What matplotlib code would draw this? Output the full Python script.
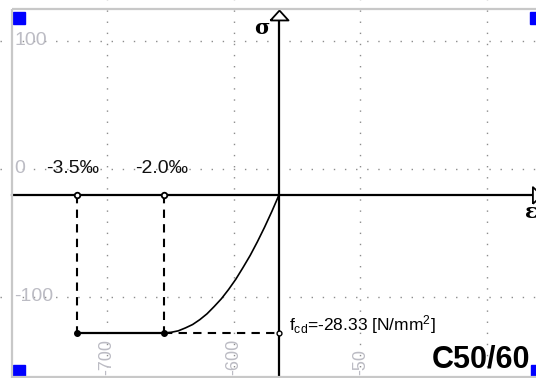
import matplotlib
matplotlib.use('Agg')
import matplotlib.pyplot as plt
from matplotlib import transforms
from matplotlib.patches import Rectangle
from matplotlib.lines import Line2D

plt.rcParams['font.family'] = ['Liberation Sans', 'DejaVu Sans']
plt.rcParams['mathtext.fontset'] = 'custom'
plt.rcParams['mathtext.rm'] = 'Liberation Sans'
plt.rcParams['mathtext.it'] = 'Liberation Sans:italic'

# background grid scale (the labels the tool draws)
grid_x = [-700, -600, -500, -400]
grid_x_labels = ['-700', '-600', '-50', '']
grid_y = [100, 0, -100]
grid_y_labels = ['100', '0', '-100']

# parabola-rectangle diagram, strain in permille, stress in N/mm2
eps_curve = [0, -0.125, -0.25, -0.375, -0.5, -0.625, -0.75, -0.875, -1.0,
             -1.125, -1.25, -1.375, -1.5, -1.625, -1.75, -1.875, -2.0]
sig_curve = [0, -3.4, -6.6, -9.6, -12.4, -14.9, -17.3, -19.4, -21.3,
             -22.9, -24.4, -25.6, -26.6, -27.3, -27.9, -28.2, -28.33]
eps_c2 = -2.0
eps_cu2 = -3.5
fcd = -28.33
concrete = 'C50/60'

W, H = 536, 378
fig = plt.figure(figsize=(W / 100, H / 100), dpi=100, facecolor='white')

# grid axes
bg = fig.add_axes([0, 0, 1, 1])
bg.set_xlim(-784.45, -361.4)
bg.set_ylim(-163.3, 132.0)
bg.axis('off')
for v in grid_x:
    bg.axvline(v, color='#8c8c8c', lw=1.0, ls=(0, (1, 7)))
for v in grid_y:
    bg.axhline(v, color='#8c8c8c', lw=1.0, ls=(0, (1, 7)))
ty = transforms.blended_transform_factory(fig.transFigure, bg.transData)
for v, lab in zip(grid_y, grid_y_labels):
    bg.text(14 / W, v, lab, transform=ty, ha='left', va='center',
            fontsize=14, color='#bcbcc4')
tx = transforms.blended_transform_factory(bg.transData, fig.transFigure)
for v, lab in zip(grid_x, grid_x_labels):
    bg.text(v, 3 / H, lab, transform=tx, ha='center', va='bottom',
            rotation=90, fontsize=13, color='#bcbcc4')

# main diagram axes
ax = fig.add_axes([0, 0, 1, 1])
ax.patch.set_alpha(0)
ax.set_xlim(-4.844, 4.462)
ax.set_ylim(-37.58, 40.04)
ax.axis('off')

ax.axhline(0, xmin=12 / W, xmax=1, color='black', lw=1.6)
ax.axvline(0, ymin=0, ymax=(H - 19) / H, color='black', lw=1.6)
up_tri = [(-1, -0.55), (0, 0.55), (1, -0.55), (-1, -0.55)]
ax.plot([0], [(195 - 15) / 4.87], marker=up_tri, ms=13, mfc='white',
        mec='black', mew=1.3, clip_on=False)
right_tri = [(-0.55, -1), (0.55, 0), (-0.55, 1), (-0.55, -1)]
ax.plot([ax.get_xlim()[1] + 0.02], [0], marker=right_tri, ms=12,
        mfc='white', mec='black', mew=1.3, clip_on=False)

ax.annotate('σ', xy=(0, ax.get_ylim()[1]), xytext=(-17, -28),
            textcoords='offset pixels', ha='center', va='center',
            fontsize=15, fontweight='bold', family='DejaVu Serif')
ax.annotate('ε', xy=(ax.get_xlim()[1], 0), xytext=(-5, -17),
            textcoords='offset pixels', ha='center', va='center',
            fontsize=15, fontweight='bold', family='DejaVu Serif')

# curve and construction lines
ax.plot(eps_curve, sig_curve, color='black', lw=1.2)
ax.plot([eps_cu2, eps_c2], [fcd, fcd], color='black', lw=1.6,
        marker='o', ms=4)
ax.plot([eps_cu2, eps_cu2], [0, fcd], color='black', lw=1.5, ls=(0, (4, 3)))
ax.plot([eps_c2, eps_c2], [0, fcd], color='black', lw=1.5, ls=(0, (4, 3)))
ax.plot([eps_c2, 0], [fcd, fcd], color='black', lw=1.5, ls=(0, (4, 3)))
ax.plot([eps_cu2, eps_c2], [0, 0], ls='none', marker='o', ms=4,
        mfc='white', mec='black', mew=1.3)
ax.plot([0], [fcd], ls='none', marker='o', ms=3.5, mfc='white',
        mec='black', mew=1.0)

ax.annotate('-3.5‰', xy=(eps_cu2, 0), xytext=(-5, 26),
            textcoords='offset pixels', ha='center', va='center',
            fontsize=14, color='#101010')
ax.annotate('-2.0‰', xy=(eps_c2, 0), xytext=(-2, 26),
            textcoords='offset pixels', ha='center', va='center',
            fontsize=14, color='#101010')
ax.annotate(r'f$_{\mathrm{cd}}$=-28.33 [N/mm$^{\mathrm{2}}$]', xy=(0, fcd),
            xytext=(10, 8), textcoords='offset pixels', ha='left',
            va='center', fontsize=12.5)

fig.text(530 / W, (H - 360) / H, concrete, ha='right', va='center',
         fontsize=22, fontweight='bold')

# frame (left, top, bottom; right side runs off the picture)
frame = dict(transform=fig.transFigure, color='#c8c8c8', lw=1.6,
             solid_capstyle='butt')
fig.lines.append(Line2D([12 / W, 12 / W], [0, (H - 9) / H], **frame))
fig.lines.append(Line2D([12 / W, 1.05], [(H - 9) / H, (H - 9) / H], **frame))
fig.lines.append(Line2D([12 / W, 1.05], [1 / H, 1 / H], **frame))
# selection handles
for x0, y0 in [(13, 12), (530, 12), (13, 365), (531, 365)]:
    fig.patches.append(Rectangle((x0 / W, (H - y0 - 12) / H), 12 / W, 12 / H,
                                 transform=fig.transFigure, color='#0000ff'))

fig.savefig('out.png', dpi=100, facecolor='white')
